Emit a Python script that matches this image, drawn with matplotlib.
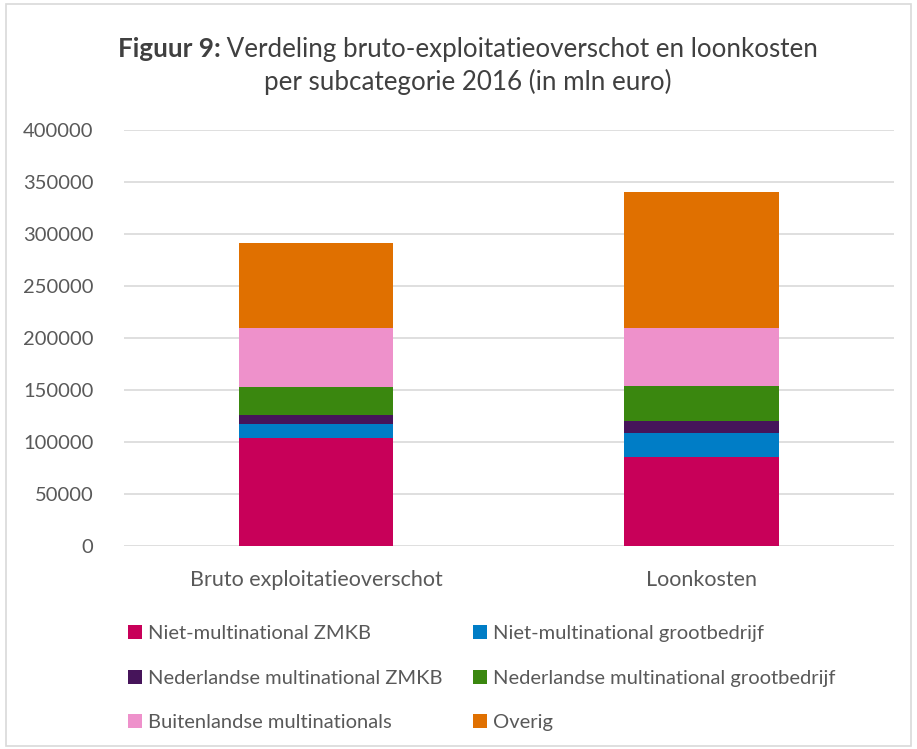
import matplotlib.pyplot as plt
from matplotlib.patches import Rectangle, Patch

# ===================
# DATA
# ===================
categories = ["Bruto exploitatieoverschot", "Loonkosten"]
series_names = [
    "Niet-multinational ZMKB",
    "Niet-multinational grootbedrijf",
    "Nederlandse multinational ZMKB",
    "Nederlandse multinational grootbedrijf",
    "Buitenlandse multinationals",
    "Overig",
]
niet_mn_zmkb = [104000, 86000]
niet_mn_groot = [13500, 22400]
ned_mn_zmkb = [8600, 12200]
ned_mn_groot = [27200, 33200]
buitenlandse_mn = [56500, 56100]
overig = [82200, 130300]
yticks = [0, 50000, 100000, 150000, 200000, 250000, 300000, 350000, 400000]

colors = ["#C80059", "#007DC6", "#46145A", "#3A870F", "#EE91CB", "#E07000"]
TEXT = "#595959"
FONT = "Lato"

# ===================
# PLOTTING
# ===================
fig = plt.figure(figsize=(9.17, 7.49), dpi=100)
ax = fig.add_axes([0.135, 0.271, 0.840, 0.555])

series = [niet_mn_zmkb, niet_mn_groot, ned_mn_zmkb, ned_mn_groot, buitenlandse_mn, overig]
x = list(range(len(categories)))
bottom = [0, 0]
handles = []
for name, vals, col in zip(series_names, series, colors):
    ax.bar(x, vals, width=0.40, bottom=bottom, color=col, zorder=3, linewidth=0)
    bottom = [b + v for b, v in zip(bottom, vals)]
    handles.append(Patch(facecolor=col, edgecolor='none', label=name))

ax.set_xlim(-0.5, 1.5)
ax.set_ylim(0, 400000)
ax.set_yticks(yticks)
ax.set_yticklabels([str(t) for t in yticks])
ax.set_xticks(x)
ax.set_xticklabels(categories)
ax.grid(axis='y', color='#D9D9D9', linewidth=1.2, zorder=0)
for s in ax.spines.values():
    s.set_visible(False)
ax.tick_params(axis='both', length=0, labelcolor=TEXT, labelsize=14.5)
ax.tick_params(axis='x', labelsize=15.5)
ax.tick_params(axis='y', pad=22)
ax.tick_params(axis='x', pad=17)
for lab in ax.get_xticklabels() + ax.get_yticklabels():
    lab.set_fontfamily(FONT)

# Title: bold "Figuur 9:" followed by regular text, centred
fig.canvas.draw()
renderer = fig.canvas.get_renderer()
title_color = "#404040"
TSIZE = 18.7
t_bold = fig.text(0, 0, "Figuur 9:", fontsize=TSIZE, weight='bold', family=FONT, color=title_color)
t_rest = fig.text(0, 0, " Verdeling bruto-exploitatieoverschot en loonkosten",
                  fontsize=TSIZE, family=FONT, color=title_color)
w_bold = t_bold.get_window_extent(renderer).width
w_rest = t_rest.get_window_extent(renderer).width
fig_w = fig.get_figwidth() * fig.dpi
start = (468 - (w_bold + w_rest) / 2) / fig_w
y1 = 1 - 49 / 749
t_bold.set_position((start, y1))
t_bold.set_va('center')
t_rest.set_position((start + w_bold / fig_w, y1))
t_rest.set_va('center')
fig.text(468 / fig_w, 1 - 82 / 749, "per subcategorie 2016 (in mln euro)", fontsize=TSIZE,
         family=FONT, color=title_color, ha='center', va='center')

# Legend (row-wise order -> column-wise for matplotlib)
order = [0, 2, 4, 1, 3, 5]
leg = fig.legend([handles[i] for i in order], [series_names[i] for i in order],
                 ncol=2, loc='upper left', bbox_to_anchor=(0.120, 1 - 607 / 749),
                 frameon=False, handlelength=0.7, handleheight=0.7, handletextpad=0.3,
                 labelspacing=1.36, columnspacing=1.5,
                 prop={'family': FONT, 'size': 14.5})
for t in leg.get_texts():
    t.set_color(TEXT)

# Chart border
fig.patches.append(Rectangle((0.006, 0.004), 0.988, 0.99, transform=fig.transFigure,
                             fill=False, edgecolor='#D9D9D9', linewidth=1.2))

fig.savefig("out.png", dpi=100)
